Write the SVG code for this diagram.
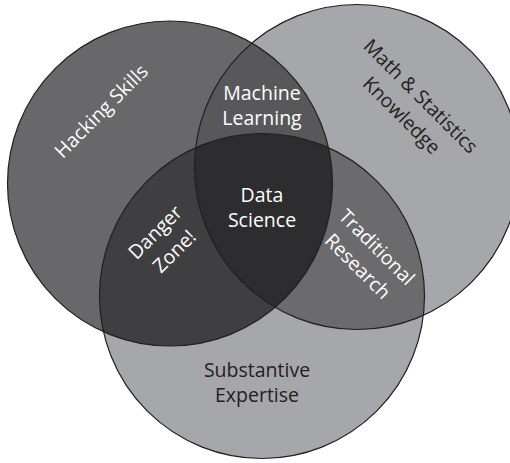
<svg xmlns="http://www.w3.org/2000/svg" width="510" height="463" viewBox="0 0 510 463">
<defs>
<clipPath id="cH"><circle cx="170" cy="183.5" r="162.5"/></clipPath>
<clipPath id="cM"><circle cx="357" cy="167" r="162.5"/></clipPath>
<clipPath id="cS"><circle cx="262" cy="296" r="162.5"/></clipPath>
<style>
.lbl{font-family:"Open Sans","Noto Sans","Liberation Sans",sans-serif;font-size:19.5px;text-anchor:middle}
.w{fill:#ffffff}
.d{fill:#231f20}
.edge{fill:none;stroke:#231f20;stroke-width:1.2}
</style>
</defs>
<rect width="510" height="463" fill="#ffffff"/>
<g id="math">
<circle cx="357" cy="167" r="162.5" fill="#a6a7aa"/>
</g>
<g id="substantive">
<circle cx="262" cy="296" r="162.5" fill="#a6a7aa"/>
</g>
<g id="hacking">
<circle cx="170" cy="183.5" r="162.5" fill="#68686b"/>
</g>
<g id="machine-learning">
<g clip-path="url(#cM)"><circle cx="170" cy="183.5" r="162.5" fill="#58585b"/></g>
</g>
<g id="danger-zone">
<g clip-path="url(#cS)"><circle cx="170" cy="183.5" r="162.5" fill="#3f3f41"/></g>
</g>
<g id="traditional-research">
<g clip-path="url(#cS)"><circle cx="357" cy="167" r="162.5" fill="#6b6b6e"/></g>
</g>
<g id="data-science">
<g clip-path="url(#cS)"><g clip-path="url(#cM)"><circle cx="170" cy="183.5" r="162.5" fill="#2d2c2e"/></g></g>
</g>
<g id="outlines">
<circle class="edge" cx="357" cy="167" r="162.5"/>
<circle class="edge" cx="262" cy="296" r="162.5"/>
<circle class="edge" cx="170" cy="183.5" r="162.5"/>
</g>
<g id="labels">
<text class="lbl w" transform="translate(106,116) rotate(-45)">Hacking Skills</text>
<g transform="translate(416,101) rotate(45)">
<text class="lbl d" x="0" y="0">Math &amp; Statistics</text>
<text class="lbl d" x="0" y="27">Knowledge</text>
</g>
<text class="lbl w" x="262" y="100">Machine</text>
<text class="lbl w" x="262" y="125">Learning</text>
<text class="lbl w" x="262" y="202">Data</text>
<text class="lbl w" x="262" y="227">Science</text>
<g transform="translate(160,237) rotate(-45)">
<text class="lbl w" x="0" y="0">Danger</text>
<text class="lbl w" x="0" y="27">Zone!</text>
</g>
<g transform="translate(372,252) rotate(45)">
<text class="lbl w" x="0" y="0">Traditional</text>
<text class="lbl w" x="0" y="27">Research</text>
</g>
<text class="lbl d" x="257" y="377">Substantive</text>
<text class="lbl d" x="257" y="402">Expertise</text>
</g>
</svg>
